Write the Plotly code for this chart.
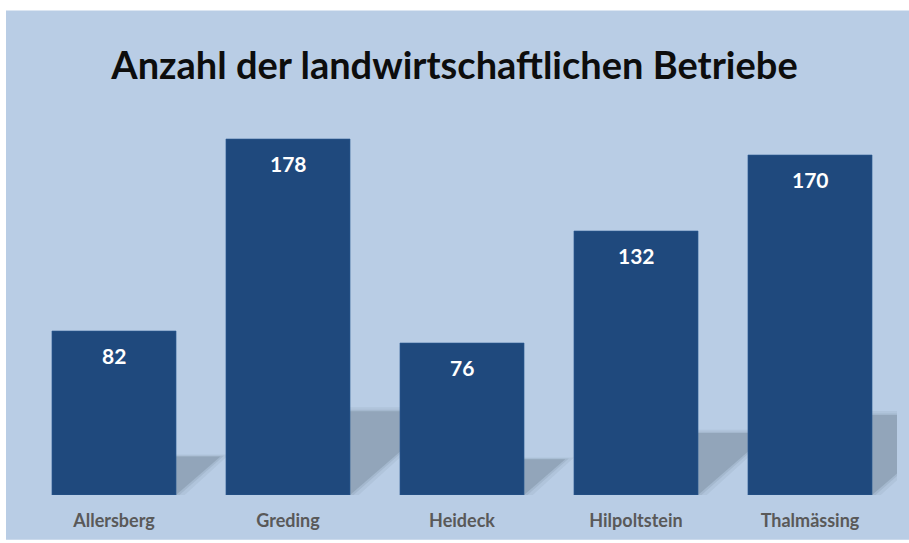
import plotly.graph_objects as go

categories = ["Allersberg", "Greding", "Heideck", "Hilpoltstein", "Thalmässing"]
values = [82, 178, 76, 132, 170]
title_text = "Anzahl der landwirtschaftlichen Betriebe"

W, H = 909, 543
ML, MR, MT, MB = 27, 12, 95, 46
YMAX = 200
BAR_W = 0.713
BG = "#b9cde5"
BAR = "#1f497d"

plot_w = W - ML - MR
plot_h = H - MT - MB
px_x = plot_w / len(categories)
px_y = plot_h / YMAX
K_V = 0.235   # shadow vertical scale
SKEW = 0.27   # shadow skew (px horizontal per px height)

xs = list(range(len(categories)))
fig = go.Figure()

# background panel
fig.add_shape(type="rect", xref="paper", yref="paper", layer="below",
              x0=(6 - ML) / plot_w, x1=(W - ML + 2) / plot_w,
              y0=(MT + plot_h - 542) / plot_h, y1=(MT + plot_h - 10) / plot_h,
              fillcolor=BG, line=dict(width=0))

# perspective shadows derived from the bar values (drawn below the bars)
for grow, alpha in [(0.05, 0.05), (0.02, 0.07), (0.0, 0.12)]:
    for i, v in zip(xs, values):
        dx = v * px_y * SKEW / px_x
        dy = K_V * v * (1 + grow)
        x0 = i - BAR_W / 2
        x1 = i + BAR_W / 2 + grow
        path = (f"M {x0},0 L {x1},0 L {x1 + dx},{dy} "
                f"L {x0 + dx},{dy} Z")
        fig.add_shape(type="path", path=path, xref="x", yref="y", layer="below",
                      fillcolor=f"rgba(20,30,45,{alpha})", line=dict(width=0))

fig.add_trace(go.Bar(x=xs, y=values, width=BAR_W,
                     marker=dict(color=BAR, line=dict(width=0.6, color="#2b5a94")),
                     showlegend=False, hoverinfo="skip"))

for i, v in zip(xs, values):
    fig.add_annotation(x=i, y=v, text=f"<b>{v}</b>", showarrow=False,
                       yshift=-24, font=dict(family="Lato", size=21, color="white"))

fig.update_layout(
    width=W, height=H,
    margin=dict(l=ML, r=MR, t=MT, b=MB),
    paper_bgcolor="white",
    plot_bgcolor="rgba(0,0,0,0)",
    title=dict(text=f"<b>{title_text}</b>", x=0.5, xanchor="center",
               xref="container", yref="container", y=(H - 66) / H, yanchor="middle",
               font=dict(family="Lato", size=38, color="#0d0d0d")),
    xaxis=dict(range=[-0.5, len(categories) - 0.5], tickvals=xs,
               ticktext=[f"<b>{c}</b>" for c in categories],
               showgrid=False, zeroline=False, showline=False, ticks="",
               ticklabelstandoff=13, fixedrange=True,
               tickfont=dict(family="Lato", size=18, color="#595959")),
    yaxis=dict(range=[0, YMAX], visible=False, showgrid=False, zeroline=False,
               fixedrange=True),
)

fig.write_html("out.html",
               config={"displayModeBar": False},
               post_script="document.body.style.margin='0';"
                           "document.body.style.overflow='hidden';")
